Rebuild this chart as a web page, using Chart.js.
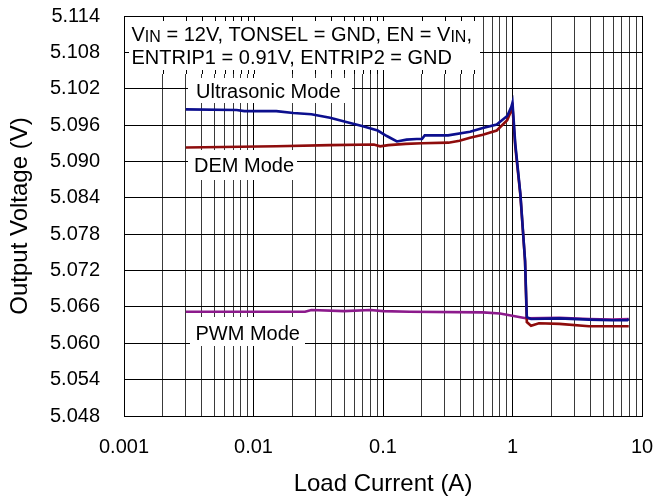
<!DOCTYPE html>
<html>
<head>
<meta charset="utf-8">
<script src="https://cdn.jsdelivr.net/npm/chart.js@4.4.1/dist/chart.umd.min.js"></script>
<style>
  html, body { margin: 0; padding: 0; background: #fff; }
  canvas { display: block; }
</style>
</head>
<body>
<canvas id="vout" width="655" height="503"></canvas>
<script>
// Load current (A) and output voltage (V)
const ultraCurrent = [0.003, 0.0074, 0.0085, 0.015, 0.0203, 0.028, 0.039, 0.052, 0.070, 0.091, 0.107, 0.128, 0.152, 0.182, 0.2, 0.21, 0.318, 0.47, 0.59, 0.755, 0.91, 0.98, 1.0, 1.05, 1.15, 1.25, 1.29, 1.39, 2.3, 3.9, 5.9, 7.7, 7.9];
const ultraVoltage = [5.0986, 5.0985, 5.0983, 5.0983, 5.0980, 5.0978, 5.0972, 5.0965, 5.0958, 5.0951, 5.0942, 5.0933, 5.0936, 5.0937, 5.0937, 5.0943, 5.0943, 5.0949, 5.0955, 5.0961, 5.0975, 5.0990, 5.0997, 5.0930, 5.0847, 5.0737, 5.0643, 5.0640, 5.0641, 5.0639, 5.0638, 5.0638, 5.0640];

const demCurrent = [0.003, 0.015, 0.039, 0.085, 0.095, 0.11, 0.15, 0.2, 0.32, 0.39, 0.47, 0.59, 0.755, 0.91, 1.0, 1.05, 1.15, 1.25, 1.29, 1.39, 1.6, 2.3, 3.9, 7.9];
const demVoltage = [5.0923, 5.0925, 5.0927, 5.0928, 5.0925, 5.0927, 5.0929, 5.0930, 5.0931, 5.0934, 5.0939, 5.0944, 5.0951, 5.0968, 5.0989, 5.0925, 5.0845, 5.0735, 5.0635, 5.0629, 5.0633, 5.0632, 5.0628, 5.0628];

const pwmCurrent = [0.003, 0.025, 0.028, 0.05, 0.08, 0.1, 0.16, 0.59, 0.8, 1.15, 1.3, 2.3, 3.9, 5.9, 7.9];
const pwmVoltage = [5.0652, 5.0652, 5.0655, 5.0653, 5.0655, 5.0653, 5.0652, 5.0651, 5.0649, 5.0643, 5.0641, 5.0642, 5.0640, 5.0639, 5.0640];

const xTickValues = [0.001, 0.01, 0.1, 1, 10];
const xTickLabels = ['0.001', '0.01', '0.1', '1', '10'];
const yTickValues = [5.048, 5.054, 5.060, 5.066, 5.072, 5.078, 5.084, 5.090, 5.096, 5.102, 5.108, 5.114];

const FONT = "'Liberation Sans', Arial, sans-serif";

function toPoints(xs, ys) {
    return xs.map((x, i) => ({ x: x, y: ys[i] }));
}

// grid positions: every decade plus 2..9 inside it
const xGrid = [];
xTickValues.forEach((d, i) => {
    xGrid.push(d);
    if (i < xTickValues.length - 1) {
        for (let k = 2; k <= 9; k++) xGrid.push(+(d * k).toPrecision(3));
    }
});

function isDecade(v) {
    return xTickValues.some(d => Math.abs(d - v) < d * 1e-6);
}

// white boxed labels drawn on top of the grid
const labelsPlugin = {
    id: 'labels',
    beforeDatasetsDraw(chart) {
        const ctx = chart.ctx;
        const a = chart.chartArea;
        const xs = chart.scales.x;
        const ys = chart.scales.y;
        ctx.save();
        ctx.fillStyle = '#fff';
        // condition box
        ctx.fillRect(a.left + 1, a.top + 1, 483 - a.left - 1, 73 - a.top);
        // mode labels
        ctx.fillRect(188, 78, 164, 25);
        ctx.fillRect(188, 150, 109, 30);
        ctx.fillRect(190, 317, 115, 29);

        // inward ticks on the border inside the condition box
        ctx.strokeStyle = '#000';
        ctx.lineWidth = 1;
        ctx.beginPath();
        xGrid.forEach(v => {
            const px = Math.round(xs.getPixelForValue(v)) + 0.5;
            if (px > a.left + 2 && px < 483) {
                ctx.moveTo(px, a.top);
                ctx.lineTo(px, a.top + 5);
                ctx.moveTo(px, 74);
                ctx.lineTo(px, 70);
            }
        });
        yTickValues.forEach(v => {
            const py = Math.round(ys.getPixelForValue(v)) + 0.5;
            if (py > a.top + 2 && py < 73) {
                ctx.moveTo(a.left, py);
                ctx.lineTo(a.left + 5, py);
                ctx.moveTo(484, py);
                ctx.lineTo(480, py);
            }
        });
        ctx.stroke();

        ctx.fillStyle = '#000';
        ctx.textBaseline = 'alphabetic';
        ctx.textAlign = 'left';
        const big = '20px ' + FONT;
        const small = '16px ' + FONT;
        const parts = [['V', big], ['IN', small], [' = 12V, TONSEL = GND, EN = V', big], ['IN', small], [',', big]];
        let x = 131.5;
        parts.forEach(p => {
            ctx.font = p[1];
            ctx.fillText(p[0], x, 41 + (p[1] === small ? 0.5 : 0));
            x += ctx.measureText(p[0]).width;
        });
        ctx.font = big;
        ctx.fillText('ENTRIP1 = 0.91V, ENTRIP2 = GND', 131.5, 63.5);
        ctx.fillText('Ultrasonic Mode', 196, 97.5);
        ctx.fillText('DEM Mode', 194, 172);
        ctx.fillText('PWM Mode', 195.5, 340);
        ctx.restore();
    }
};

const ctx = document.getElementById('vout');

const myChart = new Chart(ctx, {
    type: 'line',
    data: {
        datasets: [
            {
                label: 'Ultrasonic Mode',
                data: toPoints(ultraCurrent, ultraVoltage),
                borderColor: '#0c0f8e',
                borderWidth: 2.6,
                pointRadius: 0,
                tension: 0,
                fill: false,
                order: 0,
            },
            {
                label: 'DEM Mode',
                data: toPoints(demCurrent, demVoltage),
                borderColor: '#8e0c0c',
                borderWidth: 2.6,
                pointRadius: 0,
                tension: 0,
                fill: false,
                order: 1,
            },
            {
                label: 'PWM Mode',
                data: toPoints(pwmCurrent, pwmVoltage),
                borderColor: '#8c1a8c',
                borderWidth: 2.6,
                pointRadius: 0,
                tension: 0,
                fill: false,
                order: 2,
            },
        ],
    },
    options: {
        responsive: false,
        animation: false,
        devicePixelRatio: 1,
        layout: { padding: { top: 16, right: 13, left: 0, bottom: 0 } },
        plugins: {
            legend: { display: false },
            tooltip: { enabled: false },
        },
        scales: {
            x: {
                type: 'logarithmic',
                min: 0.001,
                max: 10,
                afterBuildTicks: (scale) => {
                    scale.ticks = xGrid.map(v => ({ value: v }));
                },
                afterFit: (scale) => {
                    scale.height = 87;
                    scale.paddingLeft = 0;
                    scale.paddingRight = 0;
                },
                ticks: {
                    autoSkip: false,
                    maxRotation: 0,
                    padding: 19,
                    color: '#000',
                    font: { family: FONT, size: 20 },
                    callback: (value) => {
                        const i = xTickValues.findIndex(d => Math.abs(d - value) < d * 1e-6);
                        return i >= 0 ? xTickLabels[i] : '';
                    },
                },
                grid: {
                    drawTicks: false,
                    color: (c) => (c.tick && isDecade(c.tick.value) ? '#000' : '#3a3a3a'),
                    lineWidth: 1,
                },
                border: { color: '#000', width: 1 },
                title: {
                    display: true,
                    text: 'Load Current (A)',
                    color: '#000',
                    font: { family: FONT, size: 24 },
                    padding: { top: 0, bottom: 4 },
                },
            },
            y: {
                min: 5.048,
                max: 5.114,
                afterBuildTicks: (scale) => {
                    scale.ticks = yTickValues.map(v => ({ value: v }));
                },
                afterFit: (scale) => {
                    scale.width = 124;
                    scale.paddingTop = 0;
                    scale.paddingBottom = 0;
                },
                ticks: {
                    padding: 24,
                    color: '#000',
                    font: { family: FONT, size: 20 },
                    callback: (value) => value.toFixed(3),
                },
                grid: {
                    drawTicks: false,
                    color: '#000',
                    lineWidth: 1,
                },
                border: { color: '#000', width: 1 },
                title: {
                    display: true,
                    text: 'Output Voltage (V)',
                    color: '#000',
                    font: { family: FONT, size: 24 },
                    padding: { top: 6, bottom: 0 },
                },
            },
        },
    },
    plugins: [labelsPlugin],
});
</script>
</body>
</html>
